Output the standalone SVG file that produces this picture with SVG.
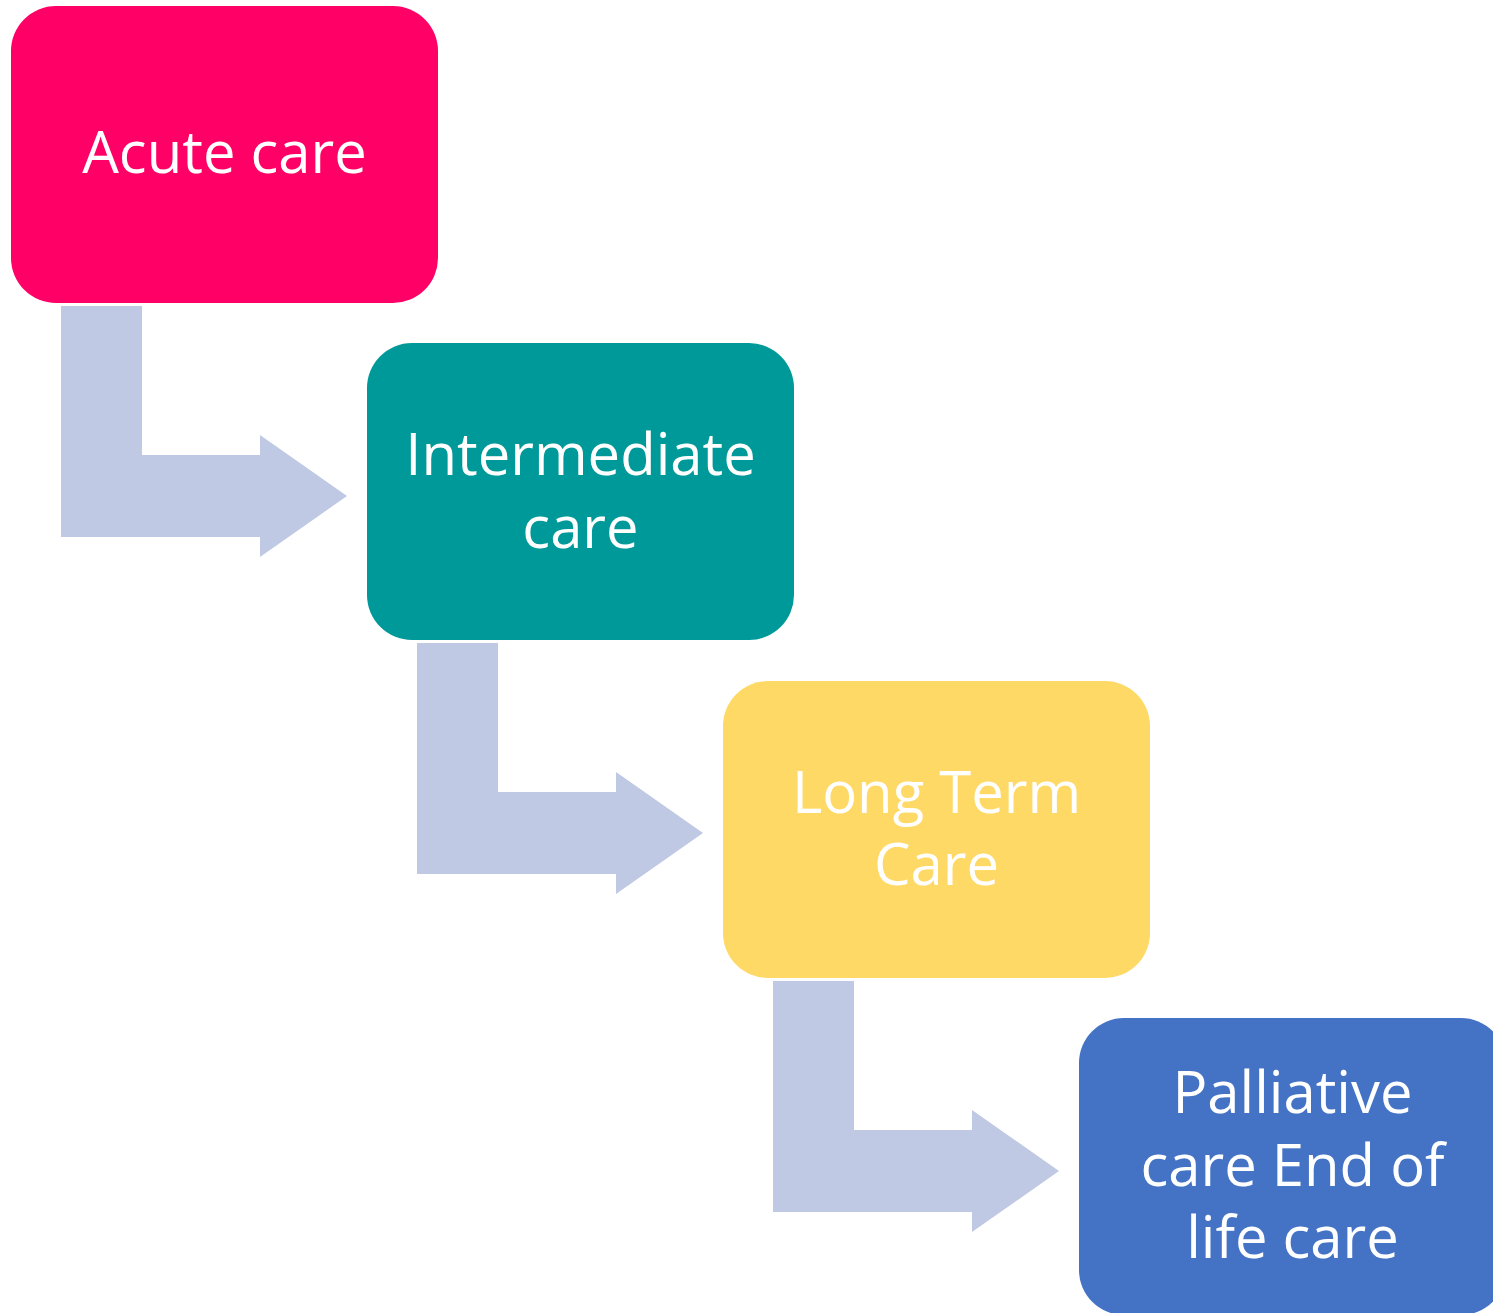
<svg xmlns="http://www.w3.org/2000/svg" width="1493" height="1313" viewBox="0 0 1493 1313">
<style>
.t{font-family:"Open Sans","Noto Sans","Liberation Sans",sans-serif;font-size:58px;fill:#FFFFFF;text-anchor:middle}
.a{fill:#BFC9E3}
</style>
<rect width="1493" height="1313" fill="#FFFFFF"/>
<g id="connectors">
<path class="a" d="M61,306 H142 V455 H260 V435 L347,496 L260,557 V537 H61 Z"/>
<path class="a" d="M417,643 H498 V792 H616 V772 L703,833 L616,894 V874 H417 Z"/>
<path class="a" d="M773,981 H854 V1130 H972 V1110 L1059,1171 L972,1232 V1212 H773 Z"/>
</g>
<g id="acute">
<rect x="11" y="6" width="427" height="297" rx="45" fill="#FF0066"/>
<text class="t" x="224.5" y="173">Acute care</text>
</g>
<g id="intermediate">
<rect x="367" y="343" width="427" height="297" rx="45" fill="#009999"/>
<text class="t" x="580.5" y="475">Intermediate</text>
<text class="t" x="580.5" y="548">care</text>
</g>
<g id="longterm">
<rect x="723" y="681" width="427" height="297" rx="45" fill="#FFD966"/>
<text class="t" x="936.5" y="813">Long Term</text>
<text class="t" x="936.5" y="885">Care</text>
</g>
<g id="palliative">
<rect x="1079" y="1018" width="427" height="297" rx="45" fill="#4472C4"/>
<text class="t" x="1292.5" y="1113">Palliative</text>
<text class="t" x="1292.5" y="1186">care End of</text>
<text class="t" x="1292.5" y="1258">life care</text>
</g>
</svg>
